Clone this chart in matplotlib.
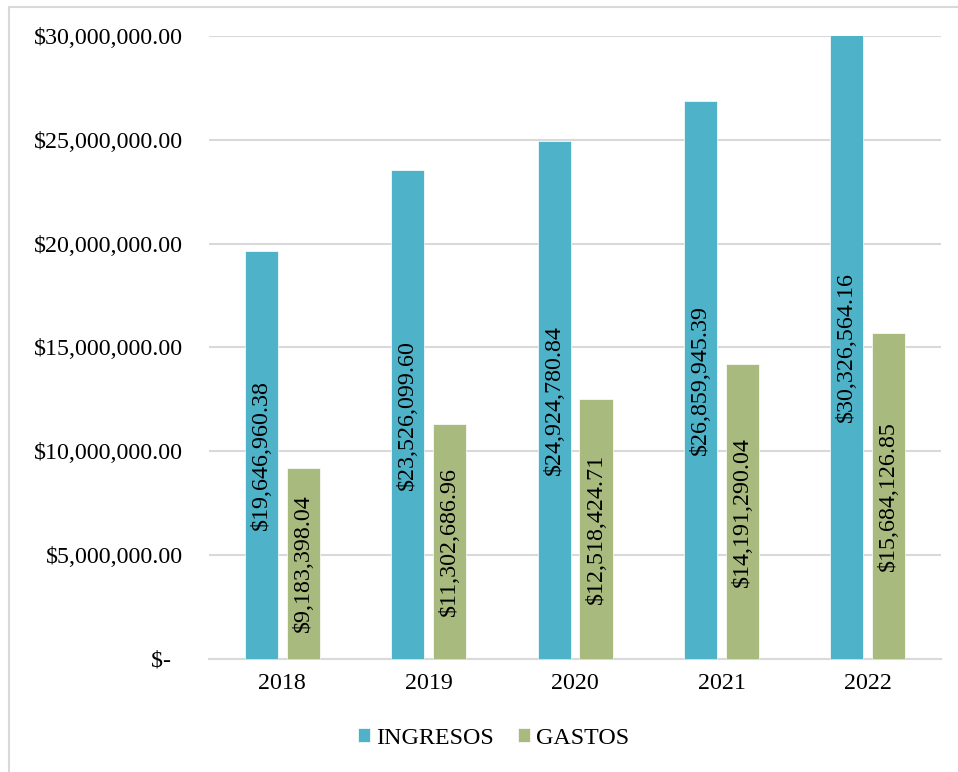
# Ingresos y gastos 2018 - 2022
import numpy as np
import matplotlib.pyplot as plt
from matplotlib.patches import Rectangle

plt.rcParams['font.family'] = ['Liberation Serif', 'DejaVu Serif']

# Data
years = ["2018", "2019", "2020", "2021", "2022"]
ingresos = [19646960.38, 23526099.60, 24924780.84, 26859945.39, 30326564.16]
gastos = [9183398.04, 11302686.96, 12518424.71, 14191290.04, 15684126.85]
y_ticks = [0, 5000000, 10000000, 15000000, 20000000, 25000000, 30000000]

c_ing = "#4EB3C8"
c_gas = "#A9BA7E"
fs = 17.3
y_max = 30000000

fig = plt.figure(figsize = (9.58, 7.72), dpi = 100)
ax = fig.add_axes([0.2182, 0.1464, 0.7641, 0.8070])

# Chart border (left and top visible)
fig.patches.append(Rectangle((9 / 958, -0.1), 1.2, 1 - 7 / 772 + 0.1, transform = fig.transFigure,
                             fill = False, edgecolor = "#D9D9D9", linewidth = 1.5))

x = np.arange(len(years))
w = 0.226
off = 0.143
b1 = ax.bar(x - off, ingresos, width = w, color = c_ing, edgecolor = "white", linewidth = 0.5,
            label = "INGRESOS", zorder = 3)
b2 = ax.bar(x + off, gastos, width = w, color = c_gas, edgecolor = "white", linewidth = 0.5,
            label = "GASTOS", zorder = 3)

# Value labels, rotated, centred in the visible part of each bar
for xs, vals in [(x - off, ingresos), (x + off, gastos)]:
    for xi, v in zip(xs, vals):
        ax.text(xi, min(v, y_max) / 2, f"${v:,.2f}", rotation = 90, ha = "center", va = "center",
                fontsize = fs, color = "black", zorder = 4)

ax.set_xlim(-0.5, len(years) - 0.5)
ax.set_ylim(0, y_max)
ax.set_xticks(x)
ax.set_xticklabels(years, fontsize = fs)
ax.set_yticks(y_ticks)
ax.set_yticklabels([f"${v:,.2f}" if v > 0 else "$-\u2007" for v in y_ticks], fontsize = fs)
ax.tick_params(axis = "both", length = 0)
ax.tick_params(axis = "y", pad = 18.5)
ax.tick_params(axis = "x", pad = 10)

ax.grid(axis = "y", color = "#D9D9D9", linewidth = 1.5, zorder = 0)
ax.set_axisbelow(True)
for s in ["top", "right", "left"]:
    ax.spines[s].set_visible(False)
ax.spines["bottom"].set_color("#D9D9D9")
ax.spines["bottom"].set_linewidth(1.5)

fig.legend(handles = [b1, b2], loc = "center", bbox_to_anchor = (0.515, 0.044), ncol = 2,
           frameon = False, fontsize = fs, handlelength = 0.5, handleheight = 0.5,
           handletextpad = 0.25, columnspacing = 1.0)

plt.savefig("out.png", dpi = 100)
